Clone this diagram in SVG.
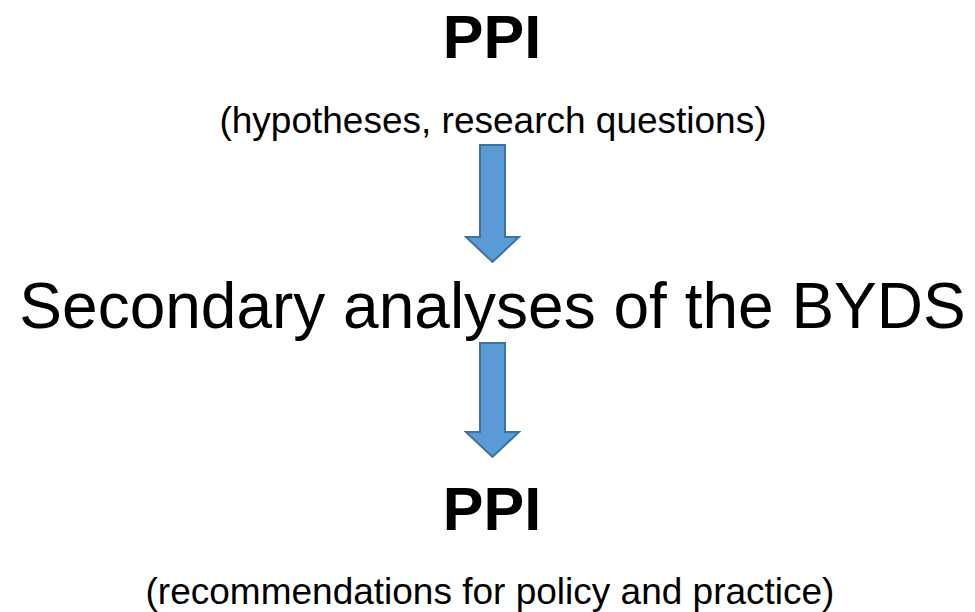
<svg xmlns="http://www.w3.org/2000/svg" width="975" height="612" viewBox="0 0 975 612">
  <style>
    text { font-family: "Liberation Sans", Arial, sans-serif; fill: #000; text-anchor: middle; }
    .title { font-size: 61px; font-weight: bold; }
    .note { font-size: 37px; }
    .main { font-size: 64px; }
    .arrow { fill: #5B9BD5; stroke: #41719C; stroke-width: 2; }
  </style>
  <rect width="975" height="612" fill="#fff"/>
  <g id="ppi-top">
    <text class="title" x="492" y="58">PPI</text>
    <text class="note" x="493" y="133">(hypotheses, research questions)</text>
  </g>
  <g id="secondary-analyses">
    <text class="main" x="492.5" y="328">Secondary analyses of the BYDS</text>
  </g>
  <g id="ppi-bottom">
    <text class="title" x="492" y="530">PPI</text>
    <text class="note" x="490" y="604">(recommendations for policy and practice)</text>
  </g>
  <g id="connectors">
    <path class="arrow" d="M480,145 H505 V237 H519 L492.5,262 L466,237 H480 Z"/>
    <path class="arrow" d="M480,343 H505 V432 H519 L492.5,457 L466,432 H480 Z"/>
  </g>
</svg>
